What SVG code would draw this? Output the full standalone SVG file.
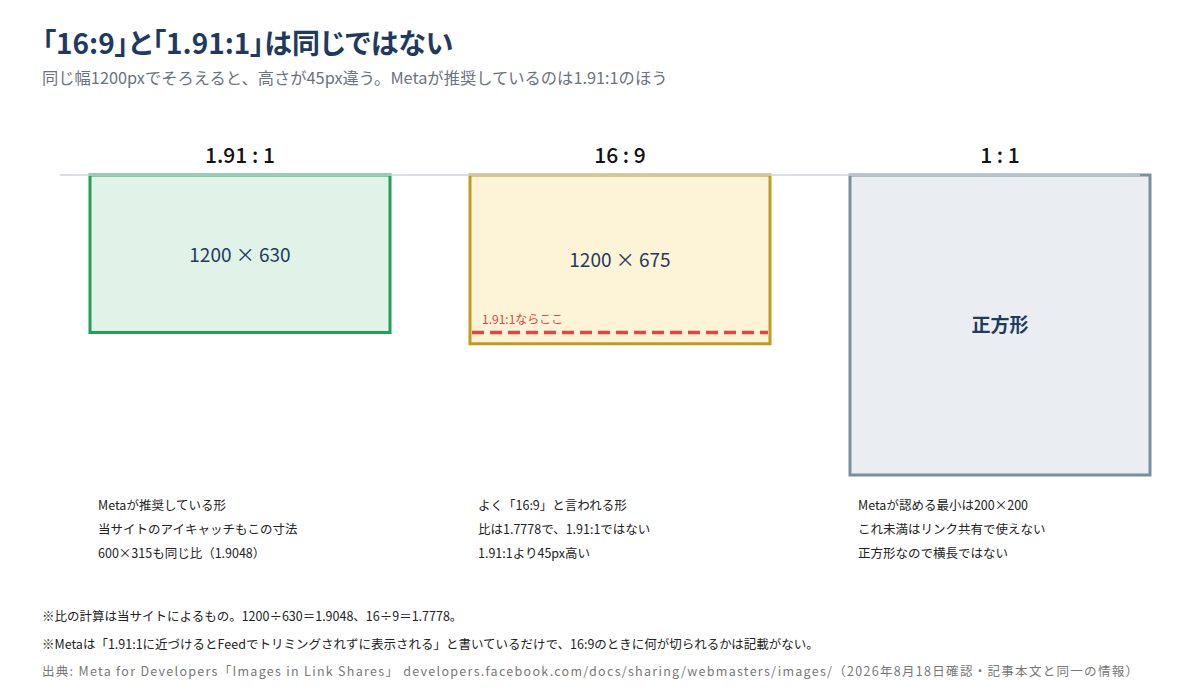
<svg xmlns="http://www.w3.org/2000/svg" width="1200" height="700" viewBox="0 0 1200 700">
<style>
text{font-family:"Noto Sans CJK JP","Noto Sans",sans-serif}
.title{font-size:28px;font-weight:bold;fill:#1f3a5f;font-feature-settings:"palt"}
.sub{font-size:16.3px;fill:#6b7280}
.ratio{font-size:21px;font-weight:500;fill:#111;text-anchor:middle}
.dim{font-size:19px;fill:#1f3a5f;text-anchor:middle}
.note{font-size:12.5px;fill:#222}
.foot{font-size:12.5px;fill:#222}
.src{font-size:12.5px;fill:#777}
</style>
<rect width="1200" height="700" fill="#fff"/>
<text class="title" x="42" y="54">「16:9」と「1.91:1」は同じではない</text>
<text class="sub" x="42" y="84">同じ幅1200pxでそろえると、高さが45px違う。Metaが推奨しているのは1.91:1のほう</text>

<g id="node-191">
<text class="ratio" x="240" y="163">1.91 : 1</text>
<rect x="90" y="175" width="300" height="157.5" fill="#e1f2e8" stroke="#22a05a" stroke-width="3"/>
<text class="dim" x="240" y="262">1200 × 630</text>
</g>
<g id="node-169">
<text class="ratio" x="620" y="163">16 : 9</text>
<rect x="470" y="175" width="300" height="168.75" fill="#fdf3d6" stroke="#c39b1c" stroke-width="3"/>
<text class="dim" x="620" y="267">1200 × 675</text>
<line x1="472" y1="332.5" x2="768" y2="332.5" stroke="#df4545" stroke-width="3.5" stroke-dasharray="12 6"/>
<text x="482" y="324" font-size="12" fill="#df4545">1.91:1ならここ</text>
</g>
<g id="node-11">
<text class="ratio" x="1000" y="163">1 : 1</text>
<rect x="850" y="175" width="300" height="300" fill="#eaeef2" stroke="#7a8f9c" stroke-width="3"/>
<text class="dim" x="1000" y="332" font-weight="bold">正方形</text>
</g>
<g id="connectors">
<line x1="60" y1="175" x2="1140" y2="175" stroke="#cfd5dc" stroke-width="2" opacity="0.75"/>
</g>

<g id="notes">
<text class="note" x="98" y="510">Metaが推奨している形</text>
<text class="note" x="98" y="534">当サイトのアイキャッチもこの寸法</text>
<text class="note" x="98" y="558">600×315も同じ比（1.9048）</text>
<text class="note" x="478" y="510">よく「16:9」と言われる形</text>
<text class="note" x="478" y="534">比は1.7778で、1.91:1ではない</text>
<text class="note" x="478" y="558">1.91:1より45px高い</text>
<text class="note" x="858" y="510">Metaが認める最小は200×200</text>
<text class="note" x="858" y="534">これ未満はリンク共有で使えない</text>
<text class="note" x="858" y="558">正方形なので横長ではない</text>
</g>
<g id="footer">
<text class="foot" x="42" y="621">※比の計算は当サイトによるもの。1200÷630＝1.9048、16÷9＝1.7778。</text>
<text class="foot" x="42" y="649">※Metaは「1.91:1に近づけるとFeedでトリミングされずに表示される」と書いているだけで、16:9のときに何が切られるかは記載がない。</text>
<text class="src" x="42" y="676" textLength="1096" lengthAdjust="spacing">出典: Meta for Developers「Images in Link Shares」 developers.facebook.com/docs/sharing/webmasters/images/（2026年8月18日確認・記事本文と同一の情報）</text>
</g>
</svg>
